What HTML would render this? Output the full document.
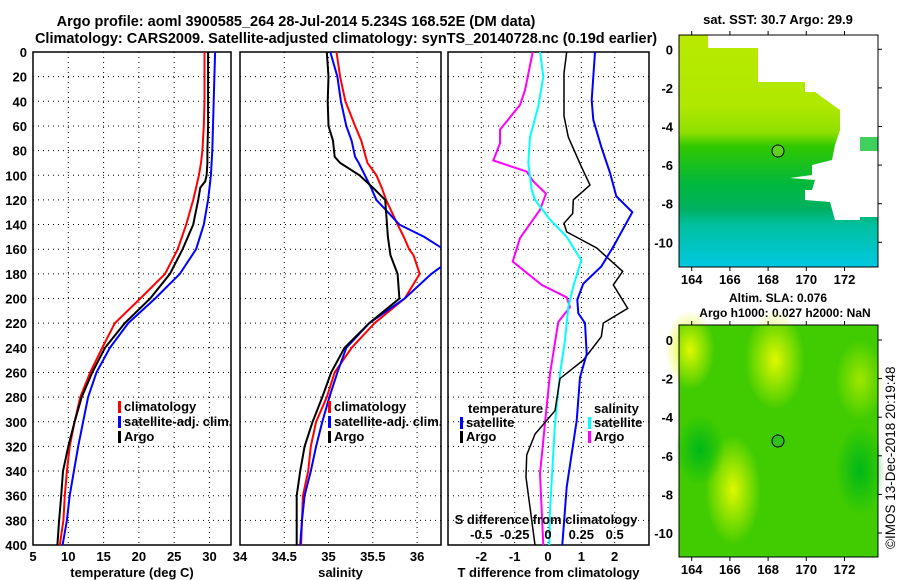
<!DOCTYPE html>
<html><head><meta charset="utf-8">
<style>
body{margin:0;background:#fff;}
svg{display:block;font-family:"Liberation Sans",sans-serif;font-weight:bold;}
</style></head>
<body>
<svg id="c" width="900" height="580" viewBox="0 0 900 580" xmlns="http://www.w3.org/2000/svg">
<text x="296" y="26" font-size="14.5" text-anchor="middle">Argo profile: aoml 3900585_264 28-Jul-2014 5.234S 168.52E (DM data)</text>
<text x="346" y="43" font-size="14.5" text-anchor="middle">Climatology: CARS2009. Satellite-adjusted climatology: synTS_20140728.nc (0.19d earlier)</text>

<g>
<text x="778" y="24" font-size="13" text-anchor="middle">sat. SST: 30.7 Argo: 29.9</text>
<defs>
<linearGradient id="sstg" x1="0" y1="0" x2="0" y2="1">
<stop offset="0" stop-color="#b8ea00"/><stop offset="0.3" stop-color="#b0e800"/><stop offset="0.42" stop-color="#90e000"/><stop offset="0.48" stop-color="#30c800"/><stop offset="0.65" stop-color="#00b840"/><stop offset="0.75" stop-color="#00b060"/><stop offset="0.82" stop-color="#00c0a0"/><stop offset="1" stop-color="#00c8e0"/>
</linearGradient>
<radialGradient id="blob" cx="0.5" cy="0.5" r="0.5"><stop offset="0" stop-color="#e0f800"/><stop offset="1" stop-color="#e0f800" stop-opacity="0"/></radialGradient>
<radialGradient id="blob2" cx="0.5" cy="0.5" r="0.5"><stop offset="0" stop-color="#00b818"/><stop offset="1" stop-color="#00b818" stop-opacity="0"/></radialGradient>
</defs>
<rect x="679" y="35" width="199" height="232" fill="url(#sstg)"/>
<polygon fill="#ffffff" points="708,35 878,35 878,137 860,137 860,150 878,150 878,217 860,217 860,220 835,220 830,202 805,200 805,190 812,190 815,180 790,178 812,175 812,165 832,160 835,145 840,130 840,110 815,92 805,92 805,82 758,82 758,48 708,48"/>
<rect x="860" y="137" width="18" height="14" fill="#40d060"/>
<rect x="679" y="35" width="199" height="232" fill="none" stroke="#000"/>
<circle cx="778" cy="151" r="6" fill="#60d020" stroke="#000"/>
</g>
<text x="778" y="302" font-size="12" text-anchor="middle">Altim. SLA: 0.076</text>
<text x="785" y="317" font-size="12" text-anchor="middle">Argo h1000: 0.027 h2000: NaN</text>
<g>
<rect x="679" y="325" width="199" height="232" fill="#40cc00"/>
<ellipse cx="775" cy="360" rx="30" ry="50" fill="url(#blob)"/>
<ellipse cx="733" cy="490" rx="28" ry="55" fill="url(#blob)"/>
<ellipse cx="690" cy="350" rx="25" ry="40" fill="url(#blob)"/>
<ellipse cx="860" cy="380" rx="25" ry="40" fill="url(#blob)" opacity="0.6"/>
<ellipse cx="700" cy="450" rx="25" ry="35" fill="url(#blob2)"/>
<ellipse cx="860" cy="470" rx="25" ry="45" fill="url(#blob2)"/>
<rect x="679" y="325" width="199" height="232" fill="none" stroke="#000"/>
<circle cx="778" cy="441" r="6" fill="#30c020" stroke="#000"/>
</g>
<text transform="translate(895,549) rotate(-90)" font-size="13.5" font-weight="normal">©IMOS 13-Dec-2018 20:19:48</text>
<g id="plots"></g>
</svg>
<script>
const depthsT=[0,40,60,80,90,100,105,110,120,140,160,180,200,220,240,260,280,300,320,340,360,380,400];
const tClim=[29.3,29.3,29.2,29.0,28.8,28.5,28.3,28.1,27.7,26.7,25.5,23.7,20.2,16.6,14.8,13.1,11.7,10.9,10.2,9.8,9.5,9.3,8.8];
const tSat=[30.8,30.6,30.5,30.4,30.3,30.2,30.1,30.0,29.8,29.2,28.1,25.8,22.3,18.5,15.9,14.0,12.8,12.1,11.4,10.8,10.2,9.8,9.2];
const tArgo=[29.8,29.8,29.8,29.7,29.7,29.6,29.4,28.7,28.4,27.7,26.2,24.4,21.6,18.0,15.2,13.4,11.9,10.9,10.0,9.25,9.0,8.7,8.45];
const depthsS=[0,20,40,60,72,85,90,100,110,120,140,150,160,165,180,200,220,240,260,280,300,320,340,360,380,400];
const sClim=[35.09,35.13,35.19,35.3,35.37,35.42,35.44,35.54,35.6,35.65,35.78,35.85,35.91,35.96,36.03,35.86,35.52,35.26,35.07,34.98,34.86,34.8,34.77,34.71,34.7,34.69];
const sSat=[35.02,35.1,35.14,35.2,35.26,35.3,35.34,35.41,35.48,35.54,35.8,36.08,36.3,36.45,36.16,35.86,35.46,35.2,35.1,35.01,34.93,34.86,34.8,34.73,34.7,34.68];
const sArgo=[34.98,35.0,34.99,35.0,35.05,35.07,35.13,35.35,35.5,35.64,35.66,35.67,35.69,35.7,35.78,35.8,35.46,35.18,35.03,34.93,34.82,34.73,34.68,34.64,34.64,34.64];
const dBlueZ=[0,39,55,77,98,117,130,158,174,188,201,212,220,245,264,299,353,400];
const dBlue=[1.41,1.31,1.36,1.6,1.86,2.05,2.53,1.96,1.6,1.06,0.88,0.91,1.11,1.16,0.96,0.86,0.56,0.43];
const dBlackZ=[0,17,52,69,93,108,120,131,139,146,159,178,189,208,220,231,250,265,291,310,327,345,400];
const dBlack=[0.56,0.48,0.48,0.61,1.0,1.26,0.76,0.74,0.48,0.56,1.46,2.24,1.96,2.39,1.66,1.6,1.06,0.36,0.21,-0.39,-0.64,-0.66,-0.39];
const dMagZ=[0,31,43,63,74,88,97,105,115,128,151,170,189,199,207,219,261,301,342,400];
const dMag=[-0.46,-0.69,-0.84,-1.44,-1.44,-1.64,-0.64,-0.44,-0.06,-0.24,-0.84,-1.06,-0.19,0.56,0.66,0.31,0.06,-0.09,-0.24,-0.14];
const dCyanZ=[0,20,44,69,90,112,120,136,150,169,190,207,234,261,301,372,400];
const dCyan=[-0.24,-0.14,-0.29,-0.54,-0.59,-0.49,-0.39,0.06,0.56,1.0,0.76,0.61,0.51,0.36,0.21,0.06,0.04];
const depthTicks=[0,20,40,60,80,100,120,140,160,180,200,220,240,260,280,300,320,340,360,380,400];
const tTicks=[5,10,15,20,25,30];
const sTicks=[34,34.5,35,35.5,36];
const sTickLabels=["34","34.5","35","35.5","36"];
const dTicks=[-2,-1,0,1,2];
const sdTickLabels=["-0.5","-0.25","0","0.25","0.5"];

const NS="http://www.w3.org/2000/svg";
const root=document.getElementById('plots');
function mk(tag,attrs,parent){const e=document.createElementNS(NS,tag);for(const k in attrs)e.setAttribute(k,attrs[k]);(parent||root).appendChild(e);return e;}
const Y0=52,Y1=545;
const yS=d=>Y0+d*(Y1-Y0)/400;
function panel(name,x0,x1,v0,v1,xt,xtl,title){
  const g=mk('g',{});
  
  
  const xS=v=>x0+(v-v0)*(x1-x0)/(v1-v0);
  const clip='clip-'+name;
  const cp=mk('clipPath',{id:clip},g);mk('rect',{x:x0,y:Y0,width:x1-x0,height:Y1-Y0},cp);
  depthTicks.forEach(d=>{if(d>0&&d<400){const l=mk('line',{x1:x0,x2:x1,y1:yS(d),y2:yS(d),stroke:'#000','stroke-dasharray':'1,4'},g);}});
  xt.forEach((v,i)=>{const px=xS(v);
    if(px>x0+2&&px<x1-2){const l=mk('line',{x1:px,x2:px,y1:Y0,y2:Y1,stroke:'#000','stroke-dasharray':'1,4'},g);}
    const t=mk('text',{x:px,y:Y1+16,'font-size':13,'text-anchor':'middle'},g);t.textContent=xtl[i];
    });
  const t=mk('text',{x:(x0+x1)/2,y:577,'font-size':13,'text-anchor':'middle'},g);t.textContent=title;
  
  const f=mk('rect',{x:x0,y:Y0,width:x1-x0,height:Y1-Y0,fill:'none',stroke:'#000','stroke-width':1.5},g);
  
  return {g,xS,clip};
}
function line(p,zs,vs,color,w,name){
  const pts=zs.map((z,i)=>p.xS(vs[i]).toFixed(1)+','+yS(z).toFixed(1)).join(' ');
  const l=mk('polyline',{points:pts,fill:'none',stroke:color,'stroke-width':w,'clip-path':'url(#'+p.clip+')'},p.g);
  
}
function legend(g,x,y,color,label){
  const r=mk('rect',{x:x,y:y-10,width:3,height:12,fill:color},g);
  
  const t=mk('text',{x:x+6,y:y,'font-size':13},g);t.textContent=label;
  
}
depthTicks.forEach(d=>{const t=mk('text',{x:27,y:yS(d)+5,'font-size':13,'text-anchor':'end'});t.textContent=d;
  });

const p1=panel('temperature-panel',33,231,5,33.05,tTicks,tTicks.map(String),'temperature (deg C)');
line(p1,depthsT,tClim,'#ff0000',2,'temp-climatology-line');
line(p1,depthsT,tSat,'#0000ff',2,'temp-satellite-line');
line(p1,depthsT,tArgo,'#000000',2,'temp-argo-line');
legend(p1.g,118,411,'#ff0000','climatology');legend(p1.g,118,426,'#0000ff','satellite-adj. clim.');legend(p1.g,118,441,'#000','Argo');

const p2=panel('salinity-panel',240,441,34,36.27,sTicks,sTickLabels,'salinity');
line(p2,depthsS,sClim,'#ff0000',2,'sal-climatology-line');
line(p2,depthsS,sSat,'#0000ff',2,'sal-satellite-line');
line(p2,depthsS,sArgo,'#000000',2,'sal-argo-line');
legend(p2.g,328,411,'#ff0000','climatology');legend(p2.g,328,426,'#0000ff','satellite-adj. clim.');legend(p2.g,328,441,'#000','Argo');

const p3=panel('difference-panel',448,649,-3,3.03,dTicks,dTicks.map(String),'T difference from climatology');
line(p3,dMagZ,dMag,'#ff00ff',2,'sal-argo-diff-line');
line(p3,dCyanZ,dCyan,'#00ffff',2,'sal-satellite-diff-line');
line(p3,dBlackZ,dBlack,'#000000',1.5,'temp-argo-diff-line');
line(p3,dBlueZ,dBlue,'#0000ff',2,'temp-satellite-diff-line');
{const t=mk('text',{x:468,y:413,'font-size':13},p3.g);t.textContent='temperature';}
{const t=mk('text',{x:594,y:413,'font-size':13},p3.g);t.textContent='salinity';}
legend(p3.g,460,427,'#0000ff','satellite');legend(p3.g,460,441,'#000','Argo');
legend(p3.g,588,427,'#00ffff','satellite');legend(p3.g,588,441,'#ff00ff','Argo');
{const t=mk('text',{x:546,y:524,'font-size':13,'text-anchor':'middle'},p3.g);t.textContent='S difference from climatology';}
dTicks.forEach((v,i)=>{const t=mk('text',{x:p3.xS(v),y:539,'font-size':13,'text-anchor':'middle'},p3.g);t.textContent=sdTickLabels[i];
  });

const lonTicks=[164,166,168,170,172];
const latTicks=[0,-2,-4,-6,-8,-10];
function mapAxes(top,lat0y){
  lonTicks.forEach(lo=>{const px=691.7+(lo-164)*19.1;
    const t=mk('text',{x:px,y:top+232+17,'font-size':13,'text-anchor':'middle'});t.textContent=lo;
    
    mk('line',{x1:px,x2:px,y1:top-4,y2:top,stroke:'#000'});mk('line',{x1:px,x2:px,y1:top+232,y2:top+236,stroke:'#000'});});
  latTicks.forEach(la=>{const py=lat0y-la*19.3;
    const t=mk('text',{x:673,y:py+5,'font-size':13,'text-anchor':'end'});t.textContent=la;
    
    mk('line',{x1:878,x2:882,y1:py,y2:py,stroke:'#000'});});
}
mapAxes(35,49.3);mapAxes(325,340);
</script>
</body></html>
